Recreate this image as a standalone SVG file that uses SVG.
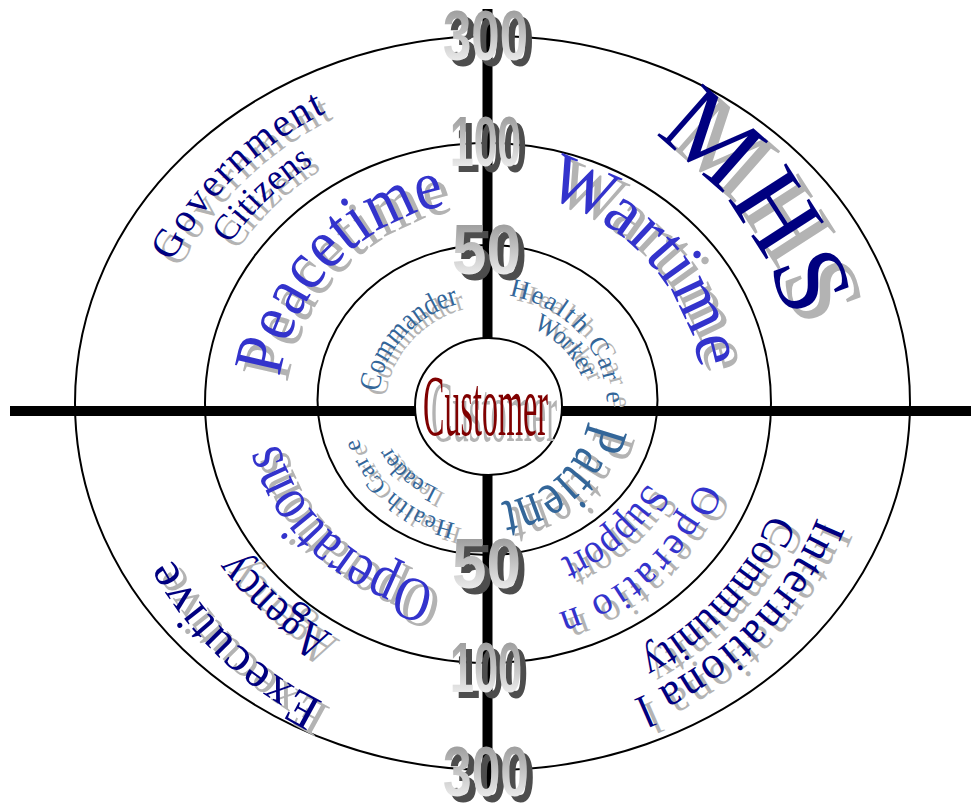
<svg xmlns="http://www.w3.org/2000/svg" xmlns:xlink="http://www.w3.org/1999/xlink" width="971" height="806" viewBox="0 0 971 806">
<style>
.ring{fill:none;stroke:#000;stroke-width:2}
.bar{stroke:#000;stroke-width:10;fill:none}
.t{font-family:"Liberation Serif","Times New Roman",serif}
.num{font-family:"Liberation Sans",Arial,sans-serif;font-weight:bold;font-size:70px}
.red{fill:#800000}
.sh{fill:#b3b3b3}
.nsh{fill:#4d4d4d}
</style>
<defs>
<linearGradient id="ng" x1="0" y1="0" x2="0" y2="1">
<stop offset="0" stop-color="#8a8a8a"/>
<stop offset="1" stop-color="#ffffff"/>
</linearGradient>
<path id="pGov" d="M143.8,344.9 A350,330 0 0 1 410.5,83.2"/>
<path id="pCit" d="M193.5,313.8 A310,292 0 0 1 384,129.9"/>
<path id="pPea" d="M279.7,430.9 A210,204 0 0 1 499.7,201.3"/>
<path id="pCom" d="M379.1,420 A110,105 0 0 1 486.8,300"/>
<path id="pHc1" d="M480.7,294.2 A119,111 0 0 1 602.9,433.7"/>
<path id="pWor" d="M511.3,321.4 A99,86 0 0 1 586.8,400"/>
<path id="pWar" d="M485,190 A215,215 0 0 1 701.7,428.2"/>
<path id="pMhs" d="M578.9,101.9 A311,317 0 0 1 799,403.9"/>
<path id="pHc2" d="M488,527 A135,122 0 0 1 353,404.4"/>
<path id="pLea" d="M463.7,496.6 A109,94 0 0 1 380.7,421.5"/>
<path id="pOps" d="M485.4,590 A214,185 0 0 1 274.4,393.7"/>
<path id="pPat" d="M588.7,397 A101,98 0 0 1 477.1,502.4"/>
<path id="pSup" d="M663.9,440.8 A180,168 0 0 1 517.1,570.8"/>
<path id="pOpn" d="M711.8,427.5 A225,219 0 0 1 499.4,623.7"/>
<path id="pCmy" d="M790.8,439.7 A305,289 0 0 1 567.5,684"/>
<path id="pInt" d="M837.7,432.7 A351,324 0 0 1 548.3,724.2"/>
<path id="pAge" d="M400.7,662.1 A297,269 0 0 1 204.9,486.3"/>
<path id="pExe" d="M409.1,731.7 A356,335 0 0 1 139.3,472.4"/>
</defs>
<rect width="971" height="806" fill="#fff"/>

<g id="rings">
<ellipse class="ring" cx="492.5" cy="403" rx="417.5" ry="367"/>
<ellipse class="ring" cx="488" cy="403" rx="283" ry="260"/>
<ellipse class="ring" cx="487.5" cy="400" rx="170" ry="155"/>
</g>

<g id="connectors">
<line class="bar" x1="10" y1="411" x2="971" y2="411"/>
<line class="bar" x1="487.5" y1="9" x2="487.5" y2="792"/>
</g>

<g id="center">
<ellipse cx="488.5" cy="406.5" rx="73.5" ry="68.5" fill="#fff" stroke="#000" stroke-width="2"/>
<text class="t sh" x="431" y="441" font-size="86" textLength="126" lengthAdjust="spacingAndGlyphs">Customer</text>
<text class="t red" x="423" y="435" font-size="86" textLength="125" lengthAdjust="spacingAndGlyphs">Customer</text>
</g>

<g id="n-government" class="t">
<use xlink:href="#tGov" href="#tGov" fill="#b3b3b3" transform="translate(8,6)"/>
<g fill="#000080"><text id="tGov" font-size="40" letter-spacing="2" text-anchor="middle"><textPath xlink:href="#pGov" href="#pGov" startOffset="50%">Government</textPath></text></g>
</g>
<g id="n-citizens" class="t">
<use xlink:href="#tCit" href="#tCit" fill="#b3b3b3" transform="translate(8,6)"/>
<g fill="#000080"><text id="tCit" font-size="36" text-anchor="middle"><textPath xlink:href="#pCit" href="#pCit" startOffset="50%">Citizens</textPath></text></g>
</g>
<g id="n-peacetime" class="t">
<use xlink:href="#tPea" href="#tPea" fill="#b3b3b3" transform="translate(8,6)"/>
<g fill="#3333cc"><text id="tPea" font-size="70" text-anchor="middle"><textPath xlink:href="#pPea" href="#pPea" startOffset="50%" textLength="255" lengthAdjust="spacingAndGlyphs">Peacetime</textPath></text></g>
</g>
<g id="n-commander" class="t">
<use xlink:href="#tCom" href="#tCom" fill="#b3b3b3" transform="translate(7,5)"/>
<g fill="#336699"><text id="tCom" font-size="30" text-anchor="middle"><textPath xlink:href="#pCom" href="#pCom" startOffset="50%" textLength="126" lengthAdjust="spacingAndGlyphs">Commander</textPath></text></g>
</g>
<g id="n-healthcare-worker" class="t">
<use xlink:href="#tHc1" href="#tHc1" fill="#b3b3b3" transform="translate(7,5)"/>
<use xlink:href="#tWor" href="#tWor" fill="#b3b3b3" transform="translate(7,5)"/>
<g fill="#336699">
<text id="tHc1" font-size="26" letter-spacing="2.5" text-anchor="middle"><textPath xlink:href="#pHc1" href="#pHc1" startOffset="50%">Health Car<tspan dx="8">e</tspan></textPath></text>
<text id="tWor" font-size="26" text-anchor="middle"><textPath xlink:href="#pWor" href="#pWor" startOffset="50%" textLength="72" lengthAdjust="spacingAndGlyphs">Worker</textPath></text>
</g>
</g>
<g id="n-wartime" class="t">
<use xlink:href="#tWar" href="#tWar" fill="#b3b3b3" transform="translate(8,6)"/>
<g fill="#3333cc"><text id="tWar" font-size="70" letter-spacing="1" text-anchor="middle"><textPath xlink:href="#pWar" href="#pWar" startOffset="50%">Wartime</textPath></text></g>
</g>
<g id="n-mhs" class="t">
<use xlink:href="#tMhs" href="#tMhs" fill="#b3b3b3" transform="translate(12,10)"/>
<g fill="#000080"><text id="tMhs" font-size="105" letter-spacing="3" text-anchor="middle"><textPath xlink:href="#pMhs" href="#pMhs" startOffset="50%">MHS</textPath></text></g>
</g>
<g id="n-healthcare-leader" class="t">
<use xlink:href="#tHc2" href="#tHc2" fill="#b3b3b3" transform="translate(7,5)"/>
<use xlink:href="#tLea" href="#tLea" fill="#b3b3b3" transform="translate(7,5)"/>
<g fill="#336699">
<text id="tHc2" font-size="24" letter-spacing="1.3" text-anchor="middle"><textPath xlink:href="#pHc2" href="#pHc2" startOffset="50%">Health Car<tspan dx="7">e</tspan></textPath></text>
<text id="tLea" font-size="24" text-anchor="middle"><textPath xlink:href="#pLea" href="#pLea" startOffset="50%" textLength="65" lengthAdjust="spacingAndGlyphs">Leader</textPath></text>
</g>
</g>
<g id="n-operations" class="t">
<use xlink:href="#tOps" href="#tOps" fill="#b3b3b3" transform="translate(8,6)"/>
<g fill="#3333cc"><text id="tOps" font-size="62" text-anchor="middle"><textPath xlink:href="#pOps" href="#pOps" startOffset="50%" textLength="222" lengthAdjust="spacingAndGlyphs">Operations</textPath></text></g>
</g>
<g id="n-patient" class="t">
<use xlink:href="#tPat" href="#tPat" fill="#b3b3b3" transform="translate(8,6)"/>
<g fill="#336699"><text id="tPat" font-size="62" text-anchor="middle"><textPath xlink:href="#pPat" href="#pPat" startOffset="50%" textLength="128" lengthAdjust="spacingAndGlyphs">Patient</textPath></text></g>
</g>
<g id="n-operation-support" class="t">
<use xlink:href="#tSup" href="#tSup" fill="#b3b3b3" transform="translate(8,6)"/>
<use xlink:href="#tOpn" href="#tOpn" fill="#b3b3b3" transform="translate(8,6)"/>
<g fill="#3333cc">
<text id="tSup" font-size="42" text-anchor="middle"><textPath xlink:href="#pSup" href="#pSup" startOffset="50%" textLength="118" lengthAdjust="spacingAndGlyphs">Support</textPath></text>
<text id="tOpn" font-size="40" letter-spacing="3.6" text-anchor="middle"><textPath xlink:href="#pOpn" href="#pOpn" startOffset="50%">Operatio<tspan dx="10">n</tspan></textPath></text>
</g>
</g>
<g id="n-international-community" class="t">
<use xlink:href="#tCmy" href="#tCmy" fill="#b3b3b3" transform="translate(8,6)"/>
<use xlink:href="#tInt" href="#tInt" fill="#b3b3b3" transform="translate(8,6)"/>
<g fill="#000080">
<text id="tCmy" font-size="44" text-anchor="middle"><textPath xlink:href="#pCmy" href="#pCmy" startOffset="50%" textLength="198" lengthAdjust="spacingAndGlyphs">Community</textPath></text>
<text id="tInt" font-size="46" letter-spacing="1.6" text-anchor="middle"><textPath xlink:href="#pInt" href="#pInt" startOffset="50%">Internationa<tspan dx="12">l</tspan></textPath></text>
</g>
</g>
<g id="n-executive-agency" class="t">
<use xlink:href="#tAge" href="#tAge" fill="#b3b3b3" transform="translate(8,6)"/>
<use xlink:href="#tExe" href="#tExe" fill="#b3b3b3" transform="translate(8,6)"/>
<g fill="#000080">
<text id="tAge" font-size="50" text-anchor="middle"><textPath xlink:href="#pAge" href="#pAge" startOffset="50%" textLength="126" lengthAdjust="spacingAndGlyphs">Agency</textPath></text>
<text id="tExe" font-size="50" letter-spacing="1.5" text-anchor="middle"><textPath xlink:href="#pExe" href="#pExe" startOffset="50%">Executive</textPath></text>
</g>
</g>

<g id="scale-numbers" class="num">
<g id="n-300-top">
<text class="nsh" x="449" y="66" textLength="85" lengthAdjust="spacingAndGlyphs">300</text>
<text fill="url(#ng)" x="443" y="60" textLength="85" lengthAdjust="spacingAndGlyphs">300</text>
</g>
<g id="n-100-top">
<text class="nsh" x="456" y="172" textLength="71" lengthAdjust="spacingAndGlyphs">100</text>
<text fill="url(#ng)" x="450" y="166" textLength="71" lengthAdjust="spacingAndGlyphs">100</text>
</g>
<g id="n-50-top">
<text class="nsh" x="458" y="280" textLength="69" lengthAdjust="spacingAndGlyphs">50</text>
<text fill="url(#ng)" x="452" y="274" textLength="69" lengthAdjust="spacingAndGlyphs">50</text>
</g>
<g id="n-50-bottom">
<text class="nsh" x="458" y="594" textLength="69" lengthAdjust="spacingAndGlyphs">50</text>
<text fill="url(#ng)" x="452" y="588" textLength="69" lengthAdjust="spacingAndGlyphs">50</text>
</g>
<g id="n-100-bottom">
<text class="nsh" x="456" y="698" textLength="72" lengthAdjust="spacingAndGlyphs">100</text>
<text fill="url(#ng)" x="450" y="692" textLength="72" lengthAdjust="spacingAndGlyphs">100</text>
</g>
<g id="n-300-bottom">
<text class="nsh" x="449" y="802" textLength="86" lengthAdjust="spacingAndGlyphs">300</text>
<text fill="url(#ng)" x="443" y="796" textLength="86" lengthAdjust="spacingAndGlyphs">300</text>
</g>
</g>
</svg>
